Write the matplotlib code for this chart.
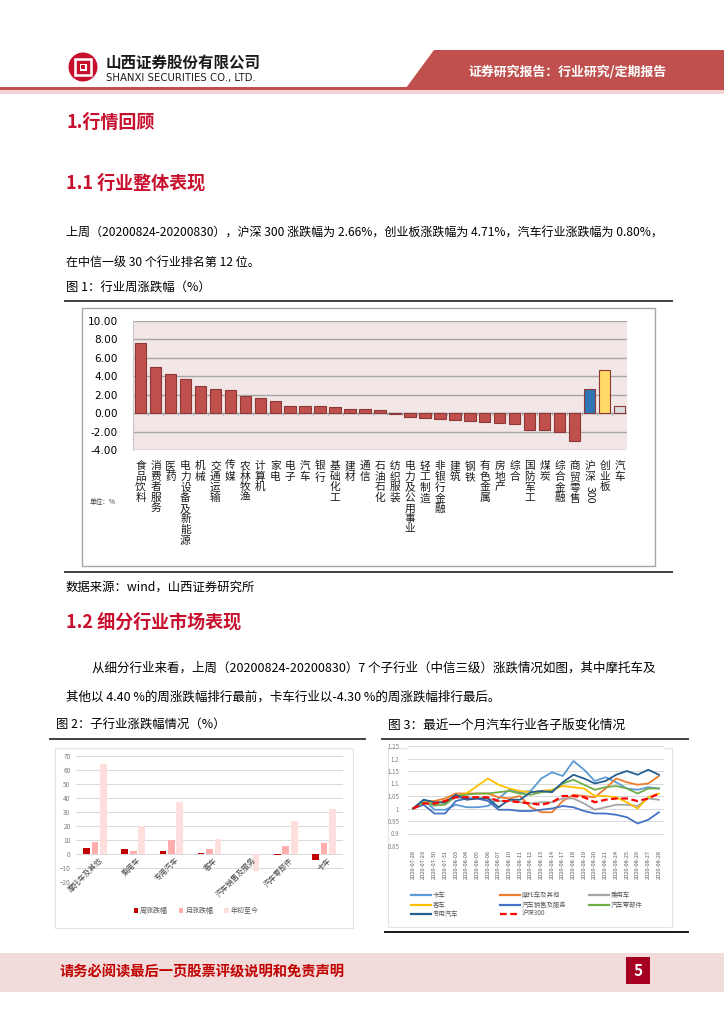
import matplotlib
matplotlib.use("Agg")
import matplotlib.pyplot as plt
from matplotlib.patches import Rectangle, Polygon, Circle
from matplotlib.transforms import offset_copy
import numpy as np

plt.rcParams['font.family'] = ['Noto Sans CJK SC', 'DejaVu Sans']

# ---- figure 1: weekly change of CITIC level-1 industries (%) ----
industries = ['食品饮料', '消费者服务', '医药', '电力设备及新能源', '机械', '交通运输', '传媒',
              '农林牧渔', '计算机', '家电', '电子', '汽车', '银行', '基础化工', '建材', '通信',
              '石油石化', '纺织服装', '电力及公用事业', '轻工制造', '非银行金融', '建筑', '钢铁',
              '有色金属', '房地产', '综合', '国防军工', '煤炭', '综合金融', '商贸零售',
              '沪深300', '创业板', '汽车']
industry_chg = [7.60, 5.05, 4.22, 3.72, 2.90, 2.58, 2.48, 1.88, 1.62, 1.32, 0.82, 0.80, 0.80,
                0.72, 0.45, 0.44, 0.33, -0.10, -0.45, -0.55, -0.65, -0.72, -0.85, -0.98,
                -1.08, -1.18, -1.80, -1.82, -2.02, -3.02, 2.66, 4.71, 0.80]
fig1_ticks = [-4, -2, 0, 2, 4, 6, 8, 10]

# ---- figure 2: sub-industry changes (%) ----
sub_inds = ['摩托车及其他', '乘用车', '专用汽车', '客车', '汽车销售及服务', '汽车零部件', '卡车']
week_chg = [4.40, 3.30, 2.00, 0.80, 0.10, -1.00, -4.30]
month_chg = [8.9, 2.4, 10.0, 3.4, 0.2, 6.0, 7.9]
ytd_chg = [64.5, 20.0, 36.8, 10.5, -12.0, 23.6, 31.9]
fig2_series = ['周涨跌幅', '月涨跌幅', '年初至今']

# ---- figure 3: last month index (base 1) ----
dates = ['2020-07-28', '2020-07-29', '2020-07-30', '2020-07-31', '2020-08-03', '2020-08-04',
         '2020-08-05', '2020-08-06', '2020-08-07', '2020-08-10', '2020-08-11', '2020-08-12',
         '2020-08-13', '2020-08-14', '2020-08-17', '2020-08-18', '2020-08-19', '2020-08-20',
         '2020-08-21', '2020-08-24', '2020-08-25', '2020-08-26', '2020-08-27', '2020-08-28']
truck = [1.0, 1.035, 0.995, 0.995, 1.015, 1.005, 1.005, 1.01, 1.04, 1.075, 1.065, 1.07,
         1.12, 1.145, 1.13, 1.19, 1.155, 1.11, 1.125, 1.105, 1.08, 1.075, 1.085, 1.08]
moto = [1.0, 1.03, 1.03, 1.04, 1.06, 1.06, 1.06, 1.06, 1.045, 1.04, 1.05, 1.005,
        0.985, 0.985, 1.03, 1.055, 1.05, 1.045, 1.08, 1.12, 1.105, 1.095, 1.10, 1.13]
passenger = [1.0, 1.03, 1.01, 1.02, 1.045, 1.04, 1.04, 1.04, 1.03, 1.03, 1.025, 1.02,
             1.025, 1.025, 1.04, 1.04, 1.02, 0.995, 1.005, 1.015, 1.015, 1.01, 1.04, 1.035]
bus = [1.0, 1.025, 1.02, 1.03, 1.05, 1.06, 1.09, 1.12, 1.095, 1.08, 1.07, 1.065,
       1.07, 1.075, 1.09, 1.085, 1.08, 1.05, 1.05, 1.045, 1.025, 1.0, 1.045, 1.06]
sales = [1.0, 1.015, 0.98, 0.98, 1.03, 1.04, 1.04, 1.03, 0.995, 0.995, 0.99, 0.99,
         0.995, 1.0, 1.01, 1.005, 0.99, 0.98, 0.98, 0.975, 0.965, 0.94, 0.955, 0.985]
parts = [1.0, 1.025, 1.015, 1.015, 1.05, 1.055, 1.06, 1.06, 1.065, 1.07, 1.06, 1.055,
         1.065, 1.07, 1.10, 1.115, 1.095, 1.075, 1.085, 1.09, 1.08, 1.06, 1.08, 1.08]
special = [1.0, 1.035, 1.025, 1.025, 1.055, 1.035, 1.04, 1.04, 1.005, 1.035, 1.035, 1.065,
           1.07, 1.065, 1.105, 1.135, 1.12, 1.10, 1.11, 1.135, 1.15, 1.135, 1.155, 1.135]
hs300 = [1.0, 1.02, 1.02, 1.03, 1.045, 1.045, 1.045, 1.045, 1.03, 1.03, 1.025, 1.02,
         1.015, 1.025, 1.05, 1.05, 1.045, 1.025, 1.035, 1.04, 1.04, 1.03, 1.04, 1.06]
fig3_names = ['卡车', '摩托车及其他', '乘用车', '客车', '汽车销售及服务', '汽车零部件', '专用汽车', '沪深300']
fig3_series = [truck, moto, passenger, bus, sales, parts, special, hs300]
fig3_colors = ['#5b9bd5', '#ed7d31', '#a5a5a5', '#ffc000', '#4472c4', '#70ad47', '#255e91', '#ff0000']

W, H = 724, 1024
RED = '#c8102e'


def rect(x0, y0, x1, y1):
    # pixel box (top-left origin) -> figure fraction
    return [x0 / W, 1 - y1 / H, (x1 - x0) / W, (y1 - y0) / H]


fig = plt.figure(figsize=(7.24, 10.24), dpi=100)
page = fig.add_axes([0, 0, 1, 1])
page.set_xlim(0, W)
page.set_ylim(H, 0)
page.axis('off')

# ---- header ----
page.add_patch(Polygon([(434, 50), (724, 50), (724, 88), (406, 88)], closed=True,
                       color='#c0504d', lw=0))
page.add_patch(Rectangle((0, 87), W, 3, color='#c0504d', lw=0))
page.add_patch(Rectangle((0, 90), W, 4, color='#f2d4d4', lw=0))
page.add_patch(Circle((83, 67), 14.5, color=RED, lw=0))
page.add_patch(Rectangle((75, 59), 16, 16, fill=False, ec='white', lw=1.8))
page.add_patch(Rectangle((79.5, 63.5), 7, 7, color='white', lw=0))
page.add_patch(Rectangle((81, 65), 4, 4, color=RED, lw=0))
page.text(106, 63, '山西证券股份有限公司', fontsize=11.2, fontweight='bold', va='center', color='#1a1a1a')
page.text(106, 78, 'SHANXI SECURITIES CO., LTD.', fontsize=7.3, va='center', color='#1a1a1a',
          family='DejaVu Sans')
page.text(568, 72, '证券研究报告：行业研究/定期报告', fontsize=9.3, fontweight='bold',
          color='white', ha='center', va='center')

# ---- section 1 text ----
page.text(66, 122, '1.行情回顾', fontsize=13, fontweight='bold', color=RED, va='center')
page.text(66, 183, '1.1 行业整体表现', fontsize=13, fontweight='bold', color=RED, va='center')
page.text(66, 233, '上周（20200824-20200830），沪深 300 涨跌幅为 2.66%，创业板涨跌幅为 4.71%，汽车行业涨跌幅为 0.80%，',
          fontsize=8.65, va='center')
page.text(66, 262, '在中信一级 30 个行业排名第 12 位。', fontsize=8.65, va='center')
page.text(66, 288, '图 1：行业周涨跌幅（%）', fontsize=8.9, va='center')
page.plot([65, 672], [301, 301], color='#404040', lw=1.4)

# ---- figure 1 ----
page.add_patch(Rectangle((82, 308), 573, 258, fc='white', ec='#a6a6a6', lw=1))
ax1 = fig.add_axes(rect(133, 321, 627, 450))
n = len(industries)
x = np.arange(n)
face = ['#c0504d'] * n
face[industries.index('沪深300')] = '#2e75b6'
face[industries.index('创业板')] = '#ffd966'
face[-1] = '#d9d9d9'
ax1.set_facecolor('#f2e6e6')
ax1.bar(x, industry_chg, width=0.76, color=face, edgecolor='#8c3836', lw=0.8, zorder=3)
ax1.set_xlim(-0.5, n - 0.5)
ax1.set_ylim(-4, 10)
ax1.set_yticks(fig1_ticks)
ax1.set_yticklabels(['%.2f' % t for t in fig1_ticks], family='DejaVu Sans', fontsize=7.6)
ax1.grid(axis='y', color='#a6a6a6', lw=1, zorder=0)
ax1.set_xticks([])
ax1.tick_params(axis='y', length=0, pad=11)
for s in ['top', 'right', 'bottom']:
    ax1.spines[s].set_visible(False)
ax1.spines['left'].set_color('#c8c8c8')
ax1.axhline(0, color='#a6a6a6', lw=1, zorder=2)
ax1.vlines(np.arange(n + 1) - 0.5, -0.25, 0, color='#a6a6a6', lw=0.8, zorder=2)
trans = ax1.get_xaxis_transform()
for i, name in enumerate(industries):
    cut = len(name)
    for k, ch in enumerate(name):
        if ch.isdigit():
            cut = k
            break
    t = offset_copy(trans, fig=fig, y=-11, units='dots')
    ax1.text(i, 0, '\n'.join(name[:cut]), transform=t, ha='center', va='top',
             fontsize=7.7, linespacing=1.07, color='#1a1a1a')
    if cut < len(name):
        t2 = offset_copy(trans, fig=fig, y=-11 - 11.8 * cut - 1, units='dots')
        ax1.text(i, 0, name[cut:], transform=t2, ha='center', va='top', rotation=-90,
                 fontsize=7.6, color='#1a1a1a')
page.text(90, 502, '单位：%', fontsize=4.8, color='#404040', va='center')
page.plot([65, 672], [572, 572], color='#404040', lw=1.4)
page.text(66, 587, '数据来源：wind，山西证券研究所', fontsize=8.9, va='center')

# ---- section 1.2 ----
page.text(66, 622, '1.2 细分行业市场表现', fontsize=13, fontweight='bold', color=RED, va='center')
page.text(92, 668, '从细分行业来看，上周（20200824-20200830）7 个子行业（中信三级）涨跌情况如图，其中摩托车及',
          fontsize=9.0, va='center')
page.text(66, 697, '其他以 4.40 %的周涨跌幅排行最前，卡车行业以-4.30 %的周涨跌幅排行最后。',
          fontsize=9.0, va='center')
page.text(56, 725, '图 2：子行业涨跌幅情况（%）', fontsize=8.9, va='center')
page.text(388, 725, '图 3：最近一个月汽车行业各子版变化情况', fontsize=9.1, va='center')
page.plot([50, 365], [739, 739], color='#404040', lw=1.4)
page.plot([382, 688], [739, 739], color='#404040', lw=1.4)

# ---- figure 2 ----
page.add_patch(Rectangle((55, 748), 298, 180, fc='white', ec='#e3e3e3', lw=0.8))
ax2 = fig.add_axes(rect(76, 756, 343, 882))
m = len(sub_inds)
x2 = np.arange(m)
bar_cols = ['#c00000', '#ffadad', '#ffdede']
for j, vals in enumerate([week_chg, month_chg, ytd_chg]):
    ax2.bar(x2 + (j - 1) * 0.22, vals, width=0.175, color=bar_cols[j], zorder=3,
            label=fig2_series[j])
ax2.set_xlim(-0.5, m - 0.5)
ax2.set_ylim(-20, 70)
ax2.set_yticks(range(-20, 71, 10))
ax2.tick_params(axis='y', labelsize=4.6, labelcolor='#7f7f7f', length=0, pad=4)
ax2.set_xticks([])
ax2.grid(axis='y', color='#d9d9d9', lw=0.7, zorder=0)
for s in ax2.spines.values():
    s.set_visible(False)
for i, name in enumerate(sub_inds):
    ax2.text(i + 0.1, -1.5, name, rotation=45, rotation_mode='anchor', ha='right', va='top',
             fontsize=5.4, color='#404040')
ax2.legend(loc='center', bbox_to_anchor=(0.45, -0.23), ncol=3, frameon=False, fontsize=5,
           handlelength=0.6, handleheight=0.6, handletextpad=0.3, columnspacing=1.6,
           labelcolor='#595959')

# ---- figure 3 ----
page.add_patch(Rectangle((388, 748), 284, 179, fc='white', ec='#e3e3e3', lw=0.8))
ax3 = fig.add_axes(rect(407.7, 746, 664.3, 846))
x3 = np.arange(len(dates))
for name, vals, col in zip(fig3_names, fig3_series, fig3_colors):
    if name == '沪深300':
        ax3.plot(x3, vals, color=col, lw=1.6, ls=(0, (3, 1.6)), zorder=4)
    else:
        ax3.plot(x3, vals, color=col, lw=1.3, zorder=3)
ax3.set_xlim(-0.5, len(dates) - 0.5)
ax3.set_ylim(0.85, 1.25)
yt3 = [0.85, 0.9, 0.95, 1.0, 1.05, 1.1, 1.15, 1.2, 1.25]
ax3.set_yticks(yt3)
ax3.set_yticklabels(['%g' % v for v in yt3])
ax3.tick_params(axis='y', labelsize=4.4, labelcolor='#7f7f7f', length=0, pad=6)
ax3.set_xticks(x3)
ax3.set_xticklabels(dates, rotation=90, fontsize=4.1, color='#595959')
ax3.tick_params(axis='x', length=0, pad=3)
ax3.grid(axis='y', color='#d9d9d9', lw=0.7, zorder=0)
for s in ax3.spines.values():
    s.set_visible(False)
# legend laid out in three columns, row-major like the source
col_x = [411, 500, 589]
row_y = [895, 904.5, 914]
for k, (name, col) in enumerate(zip(fig3_names, fig3_colors)):
    lx, ly = col_x[k % 3], row_y[k // 3]
    if name == '沪深300':
        page.plot([lx, lx + 20], [ly, ly], color=col, lw=1.6, ls=(0, (3, 1.6)))
    else:
        page.plot([lx, lx + 20], [ly, ly], color=col, lw=1.6)
    page.text(lx + 22, ly, name, fontsize=4.6, color='#595959', va='center')
page.plot([385, 688], [932, 932], color='#1a1a1a', lw=1.4)

# ---- footer ----
page.add_patch(Rectangle((0, 953), W, 39, color='#f2dcdb', lw=0))
page.text(60, 972, '请务必阅读最后一页股票评级说明和免责声明', fontsize=10.3, fontweight='bold',
          color='#c00000', va='center')
page.add_patch(Rectangle((626, 957), 24, 27, color='#a50021', lw=0))
page.text(638, 970.5, '5', fontsize=11, fontweight='bold', color='white', ha='center', va='center')

fig.savefig('out.png', dpi=100)
